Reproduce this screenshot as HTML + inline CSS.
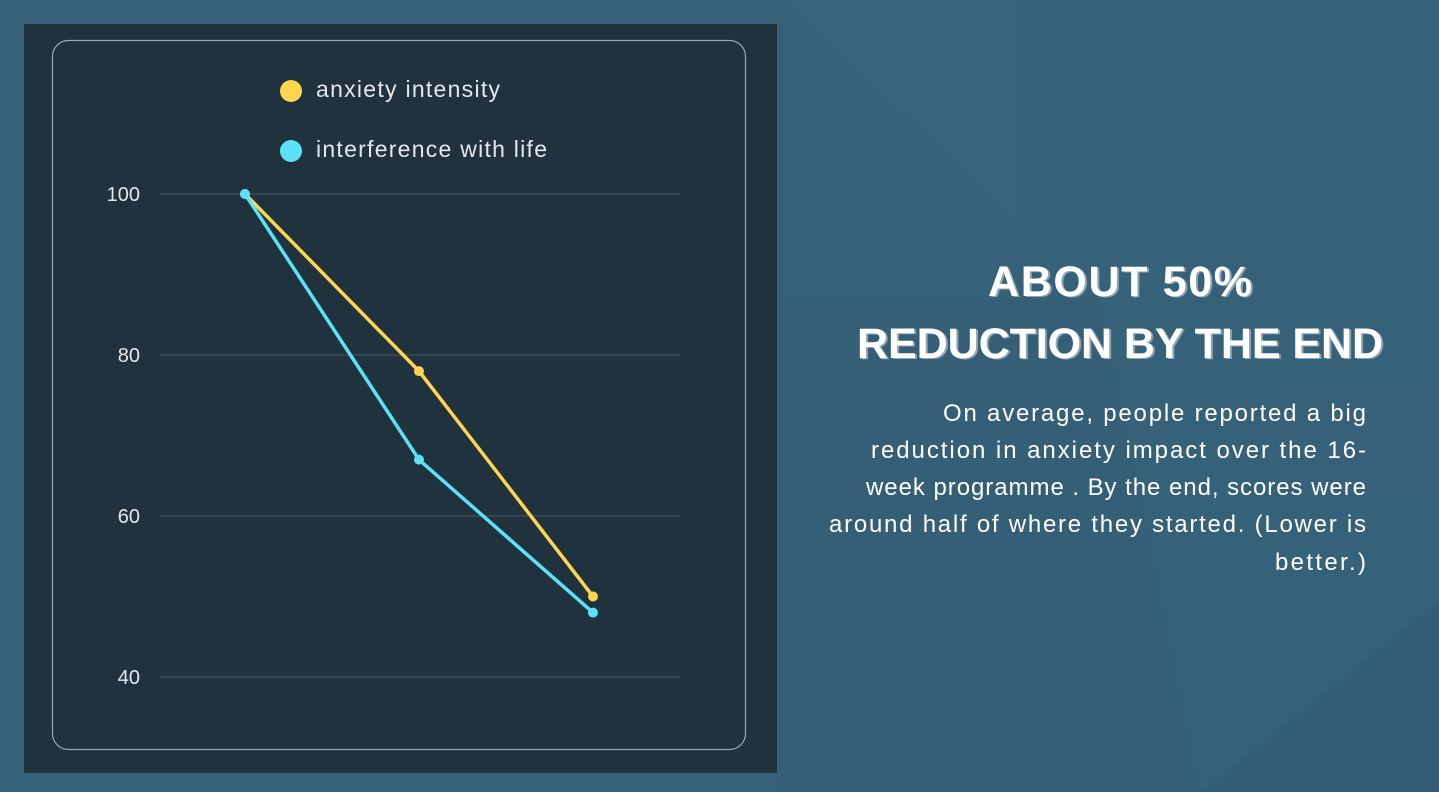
<!DOCTYPE html>
<html><head><meta charset="utf-8"><style>
html,body{margin:0;padding:0;width:1439px;height:792px;overflow:hidden;background:#346078;}
svg{display:block;font-family:"Liberation Sans",sans-serif;}
</style></head><body>
<svg width="1439" height="792" viewBox="0 0 1439 792">
<rect width="1439" height="792" fill="#356179"/>
<g opacity="0.3">
<polygon points="780,0 1439,0 1439,120 1100,300" fill="#3b6a80"/>
<polygon points="780,300 1100,300 1200,792 780,792" fill="#325c74"/>
<polygon points="1100,300 1439,120 1439,600 1200,792" fill="#38657c"/>
<polygon points="1200,792 1439,600 1439,792" fill="#2f586f"/>
</g>
<rect x="24" y="24" width="753" height="749" fill="#20323d"/>
<rect x="52.5" y="40.5" width="693" height="709" rx="16" fill="none" stroke="#9aa6ad" stroke-width="1.2"/>
<g id="grid"></g>
<g id="series"></g>
<g>
<circle cx="291" cy="91" r="11" fill="#fdd54f"/>
<text x="316" y="97" font-size="23" fill="#e4e8ea" textLength="184">anxiety intensity</text>
<circle cx="291" cy="151" r="11" fill="#5ce1f7"/>
<text x="316" y="157" font-size="23" fill="#e4e8ea" textLength="231">interference with life</text>
</g>
<g fill="#ffffff" text-anchor="middle" font-weight="bold" font-size="43">
<text x="1122" y="297" fill="#8fa3b3" textLength="264">ABOUT 50%</text>
<text x="1120" y="296" textLength="264">ABOUT 50%</text>
<text x="1122" y="359" fill="#8fa3b3" textLength="526">REDUCTION BY THE END</text>
<text x="1120" y="358" textLength="526">REDUCTION BY THE END</text>
</g>
<g fill="#ffffff" text-anchor="end" font-size="24">
<text x="1366" y="421" textLength="423">On average, people reported a big</text>
<text x="1366" y="458" textLength="495">reduction in anxiety impact over the 16-</text>
<text x="1366" y="495" textLength="500">week programme . By the end, scores were</text>
<text x="1366" y="532" textLength="537">around half of where they started. (Lower is</text>
<text x="1366" y="570" textLength="91">better.)</text>
</g>
</svg>
<script>
const ticks=[100,80,60,40];
const categories=["Week 0","Week 8","Week 16"];
const anxiety=[100,78,50];
const interference=[100,67,48];
const NS="http://www.w3.org/2000/svg";
function y(v){return 194+(100-v)*(677-194)/60;}
function x(i){return 245+i*174;}
const grid=document.getElementById('grid');
ticks.forEach(t=>{
 const l=document.createElementNS(NS,'line');
 l.setAttribute('x1',160);l.setAttribute('x2',680);l.setAttribute('y1',y(t));l.setAttribute('y2',y(t));
 l.setAttribute('stroke','#3b4d58');l.setAttribute('stroke-width','1.5');
 
 
 grid.appendChild(l);
 const tx=document.createElementNS(NS,'text');
 tx.setAttribute('x',140);tx.setAttribute('y',y(t)+7);tx.setAttribute('text-anchor','end');
 tx.setAttribute('font-size','20');tx.setAttribute('fill','#e4e8ea');tx.textContent=t;
 
 
 grid.appendChild(tx);
});
const sg=document.getElementById('series');
function draw(vals,color,name){
 const p=document.createElementNS(NS,'polyline');
 p.setAttribute('points',vals.map((v,i)=>x(i)+','+y(v)).join(' '));
 p.setAttribute('fill','none');p.setAttribute('stroke',color);p.setAttribute('stroke-width','3.5');p.setAttribute('stroke-linejoin','round');
 
 
 sg.appendChild(p);
 vals.forEach((v,i)=>{
  const c=document.createElementNS(NS,'circle');
  c.setAttribute('cx',x(i));c.setAttribute('cy',y(v));c.setAttribute('r',5);c.setAttribute('fill',color);
  
  
  sg.appendChild(c);
 });
}
draw(anxiety,'#fdd54f','anxiety');
draw(interference,'#5ce1f7','interference');
</script>
</body></html>
